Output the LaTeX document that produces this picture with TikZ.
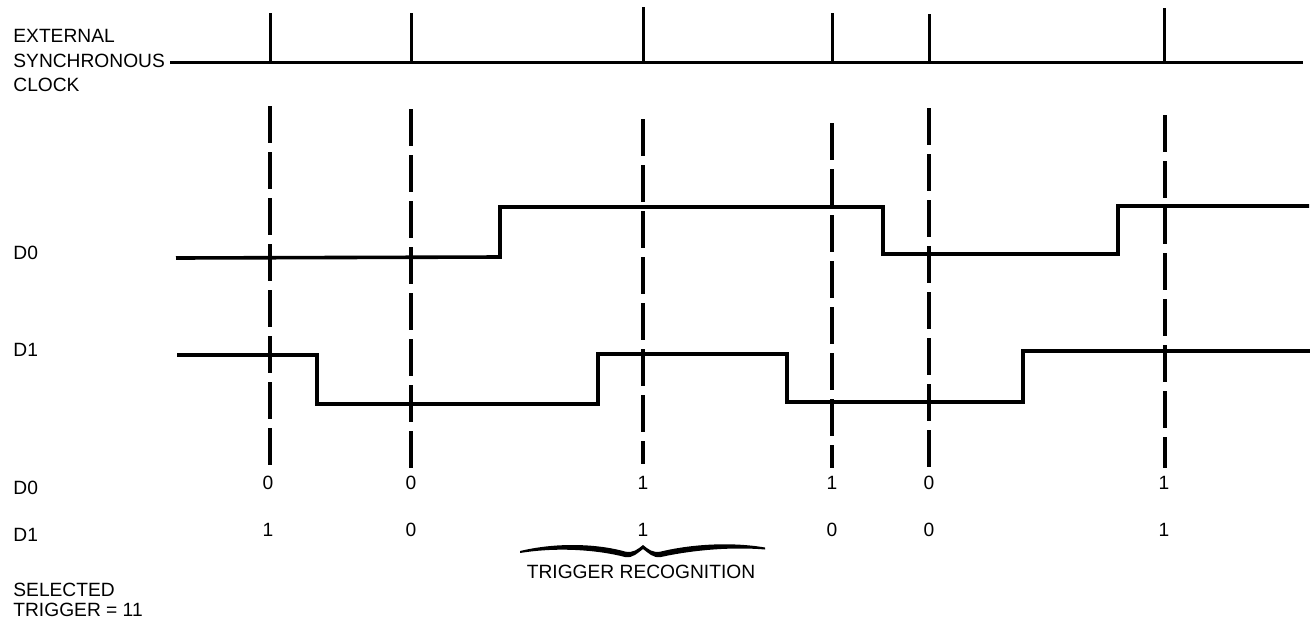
\documentclass[tikz,border=0pt]{standalone}
\usepackage{fontspec}
\setmainfont{Liberation Sans}
\begin{document}
\begin{tikzpicture}[x=0.5pt,y=-0.5pt,
  lbl/.style={inner sep=0pt, text height=6.8pt, text depth=0pt, font=\fontsize{9.6}{11}\selectfont},
  sig/.style={line width=1.8pt, line join=miter},
  clk/.style={line width=1.5pt},
  dsh/.style={line width=1.6pt, dash pattern=on 18.5pt off 4.5pt}]
\useasboundingbox (0,0) rectangle (1315,622);
% clock labels
\node[lbl, anchor=west] (ext) at (13,36) {EXTERNAL};
\node[lbl, anchor=west] (syn) at (13,61) {SYNCHRONOUS};
\node[lbl, anchor=west] (clkl) at (13,85) {CLOCK};
% clock line and ticks
\coordinate (cs) at (170,62);
\coordinate (ce) at (1303,62);
\draw[clk] (cs) -- (ce);
\foreach \x/\t in {270/13, 411/13, 643/7, 832/13, 929/14, 1164/8}
  \draw[clk] (\x,\t) -- (\x,62);
% dashed sampling lines
\foreach \x/\t/\b in {270/106/465, 411/109/468, 643/119/464, 832/123/468, 929/108/467, 1165/115/468}
  \draw[dsh] (\x,\t) -- (\x,\b);
% signal labels
\node[lbl, anchor=west] (d0) at (13,253) {D0};
\node[lbl, anchor=west] (d1) at (13,350) {D1};
% D0 trace
\draw[sig] (176,258) -- (500,257) -- (500,207) -- (883,207) -- (883,254) -- (1118,254) -- (1118,206) -- (1309,206);
% D1 trace
\draw[sig] (177,355) -- (317,355) -- (317,404) -- (598,404) -- (598,354) -- (787,354) -- (787,402) -- (1023,402) -- (1023,351) -- (1310,351);
% table labels
\node[lbl, anchor=west] (t0) at (13,488) {D0};
\node[lbl, anchor=west] (t1) at (13,535) {D1};
\foreach \x/\a/\b in {268/0/1, 411/0/0, 643/1/1, 832/1/0, 929/0/0, 1164/1/1} {
  \node[lbl] at (\x,483) {\a};
  \node[lbl] at (\x,530) {\b};
}
% brace
\fill (520,551) .. controls (560,541.5) and (600,544.5) .. (625,551.5)
  .. controls (633,553.5) and (638,549) .. (643,545)
  .. controls (648,549) and (653,553.5) .. (661,551.5)
  .. controls (690,544.5) and (730,541.5) .. (765,547.5)
  -- (765,549.5)
  .. controls (730,546.5) and (690,550.5) .. (661,557)
  .. controls (653,558.5) and (648,552.5) .. (643,549)
  .. controls (638,552.5) and (633,558.5) .. (625,557)
  .. controls (600,550.5) and (560,546.5) .. (520,553) -- cycle;
\node[lbl] (trec) at (641,572) {TRIGGER RECOGNITION};
% selected trigger
\node[lbl, anchor=west] (sel) at (13,590) {SELECTED};
\node[lbl, anchor=west] (trg) at (13,610) {TRIGGER = 11};
\end{tikzpicture}
\end{document}
